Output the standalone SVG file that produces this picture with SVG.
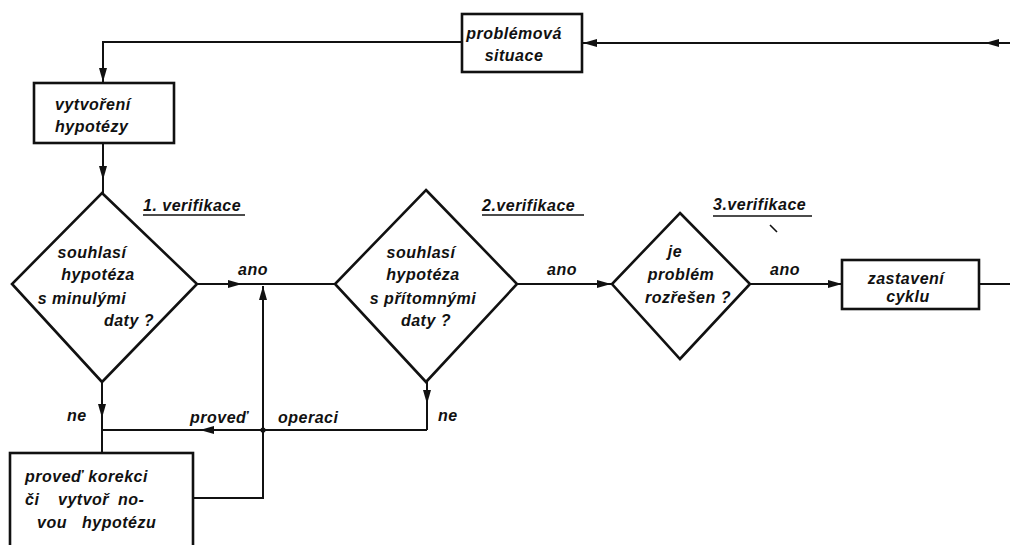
<svg xmlns="http://www.w3.org/2000/svg" width="1010" height="545" viewBox="0 0 1010 545">
<style>
  .bg{fill:#fff}
  .box{fill:#fff;stroke:#111;stroke-width:2.6}
  .dia{fill:#fff;stroke:#111;stroke-width:2.6;stroke-linejoin:miter}
  .ln{fill:none;stroke:#111;stroke-width:2}
  .t{font-family:"Liberation Sans",Arial,sans-serif;font-style:italic;font-weight:bold;font-size:16px;fill:#111;letter-spacing:0.5px}
  .c{text-anchor:middle}
  .ul{stroke:#111;stroke-width:1.6}
</style>
<defs>
  <marker id="ah" viewBox="0 0 14 8" refX="14" refY="4" markerWidth="14" markerHeight="8" markerUnits="userSpaceOnUse" orient="auto">
    <path d="M0,0 L14,4 L0,8 z" fill="#111"/>
  </marker>
</defs>
<rect class="bg" x="0" y="0" width="1010" height="545"/>

<g id="connectors">
  <path class="ln" d="M462,42 H103 L103,82" marker-end="url(#ah)"/>
  <path class="ln" d="M1010,43 L985,43 L583,43" marker-mid="url(#ah)" marker-end="url(#ah)"/>
  <path class="ln" d="M103,143 L103,180 L103,193" marker-mid="url(#ah)"/>
  <path class="ln" d="M197,284 L242,284 L335,284" marker-mid="url(#ah)"/>
  <path class="ln" d="M517,284 L611,284" marker-end="url(#ah)"/>
  <path class="ln" d="M750,284 L842,284" marker-end="url(#ah)"/>
  <path class="ln" d="M979,284 H1010"/>
  <path class="ln" d="M193,498 H263 L263,286" marker-end="url(#ah)"/>
  <path class="ln" d="M102,382 L102,418 L102,453" marker-mid="url(#ah)"/>
  <path class="ln" d="M427,382 L427,404 L427,430" marker-mid="url(#ah)"/>
  <path class="ln" d="M427,430 L200,430 L102,430" marker-mid="url(#ah)"/>
  <circle cx="263" cy="430" r="2.6" fill="#111"/>
</g>

<g id="problemova-situace">
  <rect class="box" x="462" y="14" width="120" height="58"/>
  <text class="t c" x="514" y="39">problémová</text>
  <text class="t c" x="514" y="61">situace</text>
</g>

<g id="vytvoreni-hypotezy">
  <rect class="box" x="34" y="83" width="140" height="60"/>
  <text class="t" x="55" y="110">vytvoření</text>
  <text class="t" x="55" y="132">hypotézy</text>
</g>

<g id="verifikace-1">
  <polygon class="dia" points="102,193 197,284 102,382 12,284"/>
  <text class="t c" x="92" y="258">souhlasí</text>
  <text class="t c" x="98" y="280">hypotéza</text>
  <text class="t c" x="82" y="304">s minulými</text>
  <text class="t c" x="129" y="326">daty ?</text>
  <text class="t" x="143" y="211">1. verifikace</text>
  <line class="ul" x1="143" y1="215" x2="245" y2="215"/>
</g>

<g id="verifikace-2">
  <polygon class="dia" points="426,190 517,284 426,382 335,284"/>
  <text class="t c" x="421" y="258">souhlasí</text>
  <text class="t c" x="423" y="280">hypotéza</text>
  <text class="t c" x="423" y="304">s přítomnými</text>
  <text class="t c" x="426" y="326">daty ?</text>
  <text class="t" x="482" y="211">2.verifikace</text>
  <line class="ul" x1="482" y1="215" x2="584" y2="215"/>
</g>

<g id="verifikace-3">
  <polygon class="dia" points="680,213 750,284 680,359 612,284"/>
  <text class="t c" x="675" y="257">je</text>
  <text class="t c" x="681" y="280">problém</text>
  <text class="t c" x="688" y="303">rozřešen ?</text>
  <text class="t" x="713" y="210">3.verifikace</text>
  <line class="ul" x1="713" y1="216" x2="812" y2="216"/>
  <line class="ul" x1="770" y1="225" x2="777" y2="232"/>
</g>

<g id="zastaveni-cyklu">
  <rect class="box" x="842" y="260" width="137" height="49"/>
  <text class="t c" x="906" y="284">zastavení</text>
  <text class="t c" x="908" y="302">cyklu</text>
</g>

<g id="provedte-korekci">
  <rect class="box" x="10" y="453" width="183" height="100"/>
  <text class="t" x="25" y="482">proveď korekci</text>
  <text class="t" x="25" y="505">či</text>
  <text class="t" x="58" y="505">vytvoř</text>
  <text class="t" x="118" y="505">no-</text>
  <text class="t" x="37" y="528">vou</text>
  <text class="t" x="82" y="528">hypotézu</text>
</g>

<g id="labels">
  <text class="t" x="238" y="275">ano</text>
  <text class="t" x="547" y="275">ano</text>
  <text class="t" x="770" y="275">ano</text>
  <text class="t" x="67" y="421">ne</text>
  <text class="t" x="438" y="421">ne</text>
  <text class="t" x="190" y="423">proveď</text>
  <text class="t" x="278" y="423">operaci</text>
</g>
</svg>
